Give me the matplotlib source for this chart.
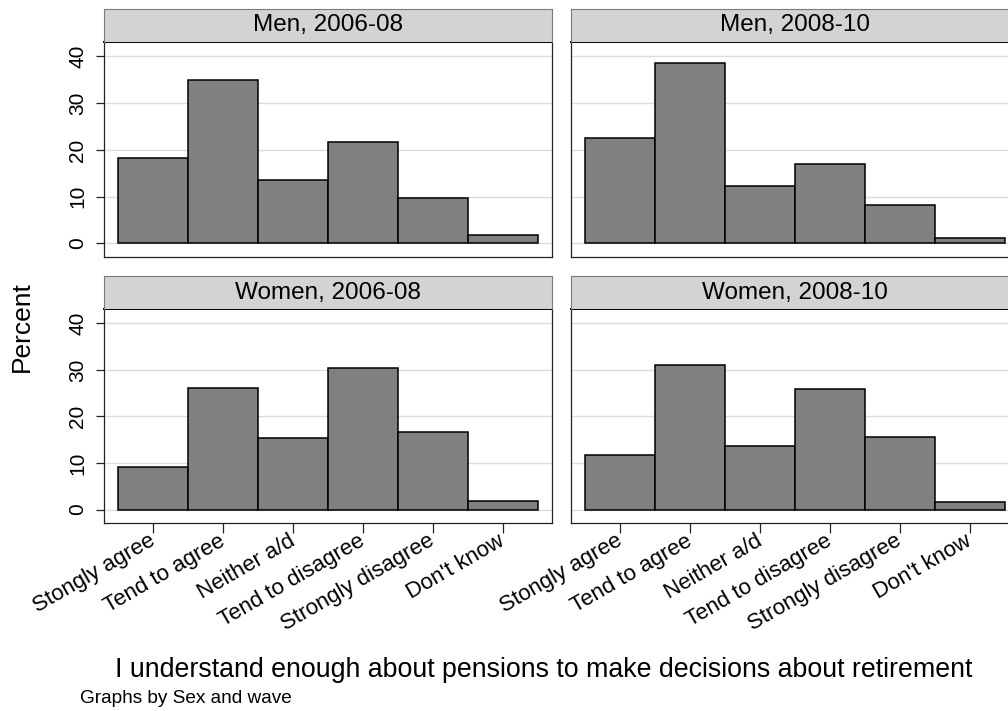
import matplotlib
matplotlib.use("Agg")
import matplotlib.pyplot as plt
import matplotlib.transforms as mtrans
import numpy as np

plt.rcParams['font.family'] = ['Liberation Sans', 'DejaVu Sans']

categories = ["Stongly agree", "Tend to agree", "Neither a/d", "Tend to disagree",
              "Strongly disagree", "Don't know"]
panel_titles = ["Men, 2006-08", "Men, 2008-10", "Women, 2006-08", "Women, 2008-10"]
men_2006 = [18.3, 35.0, 13.6, 21.6, 9.8, 1.8]
men_2008 = [22.6, 38.7, 12.3, 17.1, 8.3, 1.2]
women_2006 = [9.2, 26.2, 15.4, 30.4, 16.6, 1.9]
women_2008 = [11.8, 31.0, 13.7, 26.0, 15.6, 1.6]
yticks = [0, 10, 20, 30, 40]

series = [men_2006, men_2008, women_2006, women_2008]

W, H = 1008, 711
fig = plt.figure(figsize=(W / 100, H / 100), dpi=100)
fig.patch.set_facecolor('white')

# panel geometry in pixels: (plot_top, plot_bottom, strip_top)
lefts = [104, 571]
rows = [(42, 257, 9), (309, 523, 276)]
pw = 448

xpos = np.arange(1, len(categories) + 1)

for i, (vals, title) in enumerate(zip(series, panel_titles)):
    r, c = divmod(i, 2)
    ptop, pbot, stop = rows[r]
    L = lefts[c]
    ax = fig.add_axes([L / W, 1 - pbot / H, pw / W, (pbot - ptop) / H])
    ax.bar(xpos, vals, width=1.0, color='#808080', edgecolor='black',
           linewidth=1.1, zorder=3)
    ax.set_xlim(0.3, 6.7)
    ax.set_ylim(-2.9, 43.1)
    ax.set_yticks(yticks)
    ax.yaxis.grid(True, color='#dcdcdc', linewidth=1.0, zorder=0)
    ax.set_axisbelow(True)
    for s in ['left', 'right', 'bottom']:
        ax.spines[s].set_color('#222222')
        ax.spines[s].set_linewidth(0.9)
    ax.spines['top'].set_color('black')
    ax.spines['top'].set_linewidth(1.4)
    if c == 0:
        ax.tick_params(axis='y', length=6, width=0.9, color='#222222', pad=6,
                       labelsize=15, labelrotation=90)
        for lab in ax.get_yticklabels():
            lab.set_va('center')
    else:
        ax.tick_params(axis='y', length=0, labelleft=False)
    if r == 1:
        ax.set_xticks(xpos)
        ax.set_xticklabels(categories, rotation=30, ha='right', va='top',
                           rotation_mode='anchor', fontsize=16)
        ax.tick_params(axis='x', length=7, width=0.9, color='#222222', pad=2)
        off = mtrans.ScaledTranslation(-5 / 100, 5 / 100, fig.dpi_scale_trans)
        for lab in ax.get_xticklabels():
            lab.set_transform(lab.get_transform() + off)
    else:
        ax.set_xticks([])

    # strip
    sax = fig.add_axes([L / W, 1 - ptop / H, pw / W, (ptop - stop) / H])
    sax.set_facecolor('#d3d3d3')
    sax.set_xticks([])
    sax.set_yticks([])
    for s in ['left', 'right', 'top']:
        sax.spines[s].set_color('#7a7a7a')
        sax.spines[s].set_linewidth(0.8)
    sax.spines['bottom'].set_visible(False)
    sax.text(0.5, 0.5, title, ha='center', va='center', fontsize=17.5,
             transform=sax.transAxes)

fig.text(22 / W, 1 - 327 / H, "Percent", rotation=90, ha='center', va='center',
         fontsize=19)
fig.text(544 / W, 1 - 677 / H,
         "I understand enough about pensions to make decisions about retirement",
         ha='center', va='baseline', fontsize=19.3)
fig.text(80 / W, 1 - 703 / H, "Graphs by Sex and wave", ha='left',
         va='baseline', fontsize=13.7)

fig.savefig("out.png", dpi=100, facecolor='white')
